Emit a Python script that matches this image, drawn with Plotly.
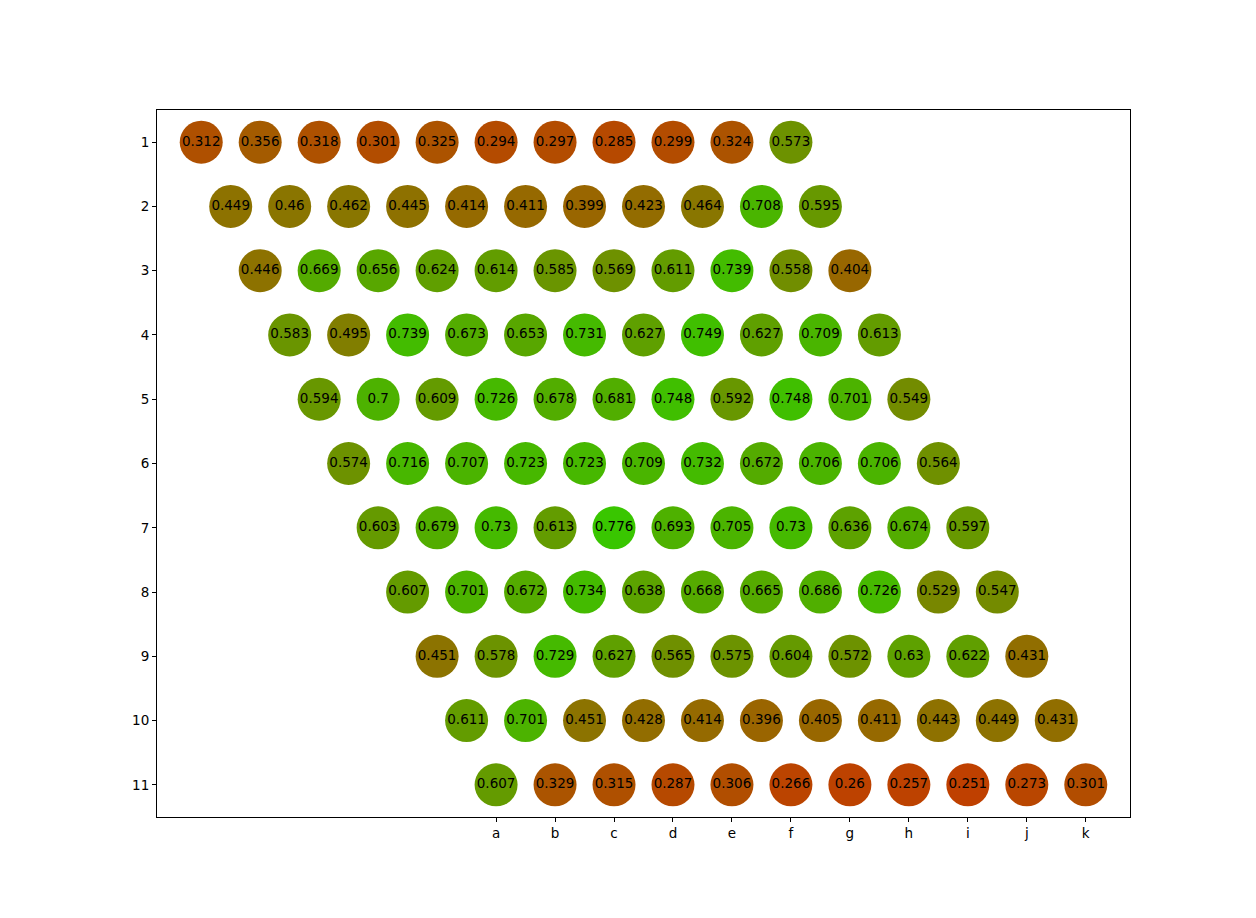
import plotly.graph_objects as go

rows = list(range(1, 12))
col_labels = ["a", "b", "c", "d", "e", "f", "g", "h", "i", "j", "k"]

row1 = [0.312, 0.356, 0.318, 0.301, 0.325, 0.294, 0.297, 0.285, 0.299, 0.324, 0.573]
row2 = [0.449, 0.46, 0.462, 0.445, 0.414, 0.411, 0.399, 0.423, 0.464, 0.708, 0.595]
row3 = [0.446, 0.669, 0.656, 0.624, 0.614, 0.585, 0.569, 0.611, 0.739, 0.558, 0.404]
row4 = [0.583, 0.495, 0.739, 0.673, 0.653, 0.731, 0.627, 0.749, 0.627, 0.709, 0.613]
row5 = [0.594, 0.7, 0.609, 0.726, 0.678, 0.681, 0.748, 0.592, 0.748, 0.701, 0.549]
row6 = [0.574, 0.716, 0.707, 0.723, 0.723, 0.709, 0.732, 0.672, 0.706, 0.706, 0.564]
row7 = [0.603, 0.679, 0.73, 0.613, 0.776, 0.693, 0.705, 0.73, 0.636, 0.674, 0.597]
row8 = [0.607, 0.701, 0.672, 0.734, 0.638, 0.668, 0.665, 0.686, 0.726, 0.529, 0.547]
row9 = [0.451, 0.578, 0.729, 0.627, 0.565, 0.575, 0.604, 0.572, 0.63, 0.622, 0.431]
row10 = [0.611, 0.701, 0.451, 0.428, 0.414, 0.396, 0.405, 0.411, 0.443, 0.449, 0.431]
row11 = [0.607, 0.329, 0.315, 0.287, 0.306, 0.266, 0.26, 0.257, 0.251, 0.273, 0.301]

values = [row1, row2, row3, row4, row5, row6, row7, row8, row9, row10, row11]

xs, ys, vs, cols, txt = [], [], [], [], []
for r, vals in zip(rows, values):
    for c, v in enumerate(vals):
        xs.append(c + 0.5 * (r - 11))
        ys.append(r)
        vs.append(v)
        cols.append("rgb(%d,%d,0)" % (round(255 * (1 - v)), round(255 * v)))
        txt.append(f"{v:g}")

fig = go.Figure()
fig.add_trace(go.Scatter(
    x=xs, y=ys, mode="markers+text",
    marker=dict(size=43, color=cols, line=dict(width=0)),
    text=txt, textposition="middle center",
    textfont=dict(family="DejaVu Sans", size=13.5, color="black"),
    hoverinfo="skip", showlegend=False,
))

axis_common = dict(
    showgrid=False, zeroline=False, showline=True, linecolor="black", linewidth=1,
    mirror=True, ticks="outside", ticklen=4, tickcolor="black", tickwidth=1,
    tickfont=dict(family="DejaVu Sans", size=13.5, color="black"),
)
fig.update_xaxes(range=[-5.75, 10.75], tickmode="array",
                 tickvals=list(range(11)), ticktext=col_labels, **axis_common)
fig.update_yaxes(range=[11.5, 0.5], tickmode="array",
                 tickvals=rows, ticktext=[str(r) for r in rows], **axis_common)

fig.update_layout(
    width=1256, height=918,
    margin=dict(l=157, r=126, t=110, b=101),
    plot_bgcolor="white", paper_bgcolor="white",
)
fig.write_html("out.html")
